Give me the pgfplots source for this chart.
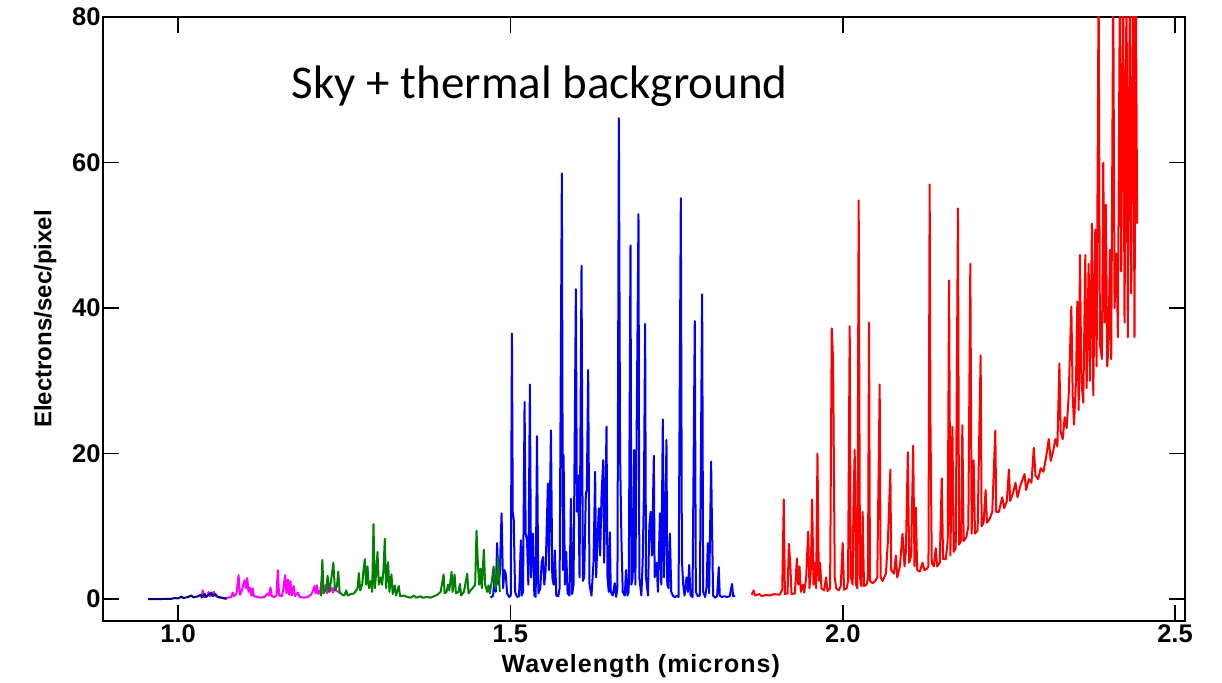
\documentclass[border=0pt]{standalone}
\usepackage{fontspec}
\setmainfont{Liberation Sans}
\newfontfamily\titlefont{Carlito}
\usepackage{pgfplots}
\pgfplotsset{compat=1.18}
\definecolor{navyc}{RGB}{0,0,128}
\definecolor{magc}{RGB}{255,0,255}
\definecolor{grnc}{RGB}{0,128,0}
\definecolor{bluc}{RGB}{0,0,255}
\definecolor{redc}{RGB}{255,0,0}
\begin{document}
\begin{tikzpicture}
\path[use as bounding box] (-103pt,-61pt) rectangle (1119pt,621pt);
\begin{axis}[
 at={(0pt,0pt)}, anchor=south west,
 scale only axis, width=1082pt, height=604pt,
 xmin=0.887, xmax=2.515, ymin=-3, ymax=80,
 xtick={1.0,1.5,2.0,2.5}, ytick={0,20,40,60,80},
 minor tick num=0,
 tick align=inside, major tick length=16pt,
 every tick/.style={black, line width=1.6pt},
 axis line style={line width=2pt},
 tick label style={font=\fontsize{25.5}{25.5}\selectfont\bfseries},
 /pgf/number format/assume math mode=true,
 x tick label style={/pgf/number format/fixed, /pgf/number format/fixed zerofill, /pgf/number format/precision=1},
 y tick label style={/pgf/number format/fixed, /pgf/number format/precision=0, xshift=1pt},
 xlabel={Wavelength (microns)}, ylabel={Electrons/sec/pixel},
 xlabel style={font=\fontsize{25}{25}\selectfont\bfseries\addfontfeatures{LetterSpace=4}, at={(axis description cs:0.497,-0.074)}, anchor=center},
 ylabel style={font=\fontsize{24}{24}\selectfont\bfseries, at={(axis description cs:-0.0535,0.5)}, anchor=center},
 clip=true,
 every axis plot/.append style={mark=none, line width=2pt, line join=round},
]
% magenta
\addplot[magc] coordinates {
(1.035,0.1)(1.037,1.2)(1.039,0.3)(1.044,0.5)(1.046,1.0)(1.048,0.4)(1.052,0.8)(1.054,1.0)(1.056,0.5)(1.06,0.3)(1.066,0.2)(1.07,0.1)(1.075,0.2)(1.08,0.3)(1.082,0.9)(1.084,0.4)(1.088,0.8)(1.091,3.3)(1.093,0.6)(1.096,1.2)(1.098,2.0)(1.1,2.6)(1.102,1.5)(1.104,2.9)(1.106,1.0)(1.108,1.6)(1.11,0.5)(1.112,1.5)(1.114,0.4)(1.12,0.3)(1.125,0.2)(1.13,0.3)(1.135,0.8)(1.137,0.5)(1.139,1.6)(1.141,0.4)(1.145,0.3)(1.148,0.5)(1.15,4.0)(1.152,0.5)(1.156,0.4)(1.158,1.2)(1.161,3.3)(1.163,0.8)(1.165,2.7)(1.167,0.6)(1.169,2.5)(1.171,0.5)(1.174,1.8)(1.176,0.4)(1.18,0.9)(1.183,0.3)(1.19,0.2)(1.195,0.3)(1.2,0.6)(1.203,1.2)(1.205,1.8)(1.207,0.8)(1.209,1.9)(1.211,0.7)(1.214,1.2)(1.217,3.3)(1.219,0.9)(1.222,1.9)(1.224,0.8)(1.226,2.3)(1.228,1.0)(1.231,1.6)(1.233,0.9)(1.236,1.8)(1.238,1.2)(1.241,1.0)(1.244,0.8)
};
% navy
\addplot[navyc] coordinates {
(0.955,0.0)(0.975,0.02)(0.99,0.05)(0.995,0.15)(1.000,0.1)(1.005,0.35)(1.008,0.15)(1.015,0.3)(1.02,0.5)(1.023,0.25)(1.03,0.4)(1.034,0.6)(1.036,0.3)(1.04,0.7)(1.042,0.3)(1.046,0.6)(1.05,0.9)(1.052,0.4)(1.056,0.7)(1.06,0.3)(1.065,0.2)(1.07,0.1)(1.073,0.05)
};
% blue
\addplot[bluc] coordinates {
(1.470,0.2)(1.474,0.5)(1.476,3.0)(1.478,1.0)(1.480,7.7)(1.482,2.0)(1.484,3.5)(1.4867,11.8)(1.489,1.5)(1.491,4.0)(1.493,3.5)(1.495,0.8)(1.498,0.3)(1.5005,0.5)(1.5023,36.5)(1.5035,12.0)(1.505,11.0)(1.507,1.0)(1.51,0.3)(1.513,0.4)(1.5158,8.1)(1.517,0.5)(1.519,1.0)(1.5213,27.1)(1.523,9.0)(1.525,8.0)(1.527,2.0)(1.5293,29.5)(1.531,3.0)(1.534,9.0)(1.536,0.5)(1.538,0.3)(1.540,22.4)(1.542,0.8)(1.545,1.5)(1.547,5.0)(1.549,5.8)(1.551,2.0)(1.553,4.0)(1.5564,15.9)(1.558,4.0)(1.561,23.2)(1.563,3.0)(1.565,2.0)(1.567,6.7)(1.569,0.5)(1.572,0.4)(1.574,1.5)(1.5774,58.5)(1.579,4.0)(1.580,19.8)(1.582,2.0)(1.584,6.5)(1.586,0.8)(1.589,0.5)(1.591,13.8)(1.593,0.7)(1.595,2.0)(1.5985,42.6)(1.600,12.0)(1.602,17.0)(1.604,3.0)(1.607,45.8)(1.609,2.5)(1.611,3.0)(1.6135,14.5)(1.615,15.0)(1.617,31.5)(1.619,2.0)(1.622,0.5)(1.625,5.0)(1.6275,17.5)(1.629,3.0)(1.631,8.0)(1.633,12.5)(1.635,6.0)(1.637,14.0)(1.6396,19.1)(1.641,5.0)(1.643,14.0)(1.6446,23.7)(1.646,3.0)(1.648,1.0)(1.6496,9.2)(1.651,1.0)(1.654,0.5)(1.657,2.2)(1.659,0.3)(1.661,1.5)(1.6632,66.1)(1.665,20.0)(1.667,8.4)(1.669,1.0)(1.672,0.5)(1.674,4.0)(1.676,0.5)(1.678,1.0)(1.6807,48.6)(1.682,2.0)(1.684,3.0)(1.6862,20.5)(1.688,2.0)(1.6927,52.9)(1.694,3.0)(1.697,0.5)(1.699,5.0)(1.701,15.4)(1.7027,37.8)(1.704,3.0)(1.707,0.5)(1.709,10.0)(1.711,12.0)(1.713,6.0)(1.7158,19.7)(1.717,3.0)(1.720,5.0)(1.722,1.0)(1.725,11.8)(1.727,2.0)(1.7293,24.7)(1.731,3.0)(1.733,10.0)(1.7348,21.9)(1.736,2.0)(1.738,1.5)(1.740,9.0)(1.742,1.0)(1.745,0.4)(1.748,0.3)(1.751,0.5)(1.753,0.3)(1.7564,55.1)(1.758,5.4)(1.760,2.0)(1.762,0.5)(1.765,3.0)(1.767,1.0)(1.769,4.7)(1.771,0.5)(1.774,0.3)(1.7774,38.2)(1.779,1.0)(1.782,0.4)(1.785,0.5)(1.7885,41.9)(1.790,1.0)(1.793,0.3)(1.795,1.5)(1.797,7.7)(1.799,0.8)(1.802,18.9)(1.803,12.0)(1.805,0.5)(1.808,0.2)(1.811,0.4)(1.8135,4.4)(1.815,0.5)(1.818,0.3)(1.822,0.4)(1.826,0.3)(1.830,0.4)(1.8335,2.1)(1.835,0.4)(1.838,0.5)
};
% green
\addplot[grnc] coordinates {
(1.215,0.4)(1.217,5.4)(1.219,0.8)(1.223,1.5)(1.225,3.2)(1.227,1.0)(1.23,2.4)(1.2336,5.0)(1.236,1.2)(1.239,1.8)(1.241,3.8)(1.243,1.0)(1.247,0.6)(1.25,0.5)(1.253,1.2)(1.255,0.5)(1.26,0.7)(1.265,0.8)(1.27,1.5)(1.272,3.6)(1.274,1.2)(1.277,2.0)(1.279,4.0)(1.281,5.5)(1.283,2.0)(1.285,4.5)(1.287,1.5)(1.29,2.5)(1.292,1.0)(1.294,10.3)(1.296,1.5)(1.298,3.5)(1.3,6.5)(1.302,2.0)(1.305,3.0)(1.307,2.0)(1.309,4.0)(1.311,8.3)(1.313,1.5)(1.316,5.1)(1.318,1.0)(1.321,3.4)(1.323,0.7)(1.326,1.9)(1.328,0.5)(1.332,1.8)(1.334,0.4)(1.34,0.5)(1.345,0.3)(1.35,0.2)(1.355,0.5)(1.358,0.2)(1.365,0.4)(1.368,0.2)(1.375,0.3)(1.38,0.2)(1.385,0.4)(1.39,0.6)(1.395,1.0)(1.3995,3.4)(1.401,0.8)(1.404,1.0)(1.406,2.0)(1.408,1.2)(1.4115,3.75)(1.413,1.0)(1.416,3.4)(1.418,0.8)(1.422,1.0)(1.424,2.1)(1.426,0.5)(1.43,1.0)(1.435,3.5)(1.437,0.8)(1.44,1.2)(1.443,1.5)(1.447,2.0)(1.449,9.4)(1.451,5.0)(1.453,2.0)(1.455,4.2)(1.457,1.5)(1.46,6.8)(1.462,2.0)(1.465,1.0)(1.467,1.9)(1.469,0.8)(1.472,2.5)(1.4747,4.5)(1.477,1.5)(1.479,2.0)(1.4817,5.8)(1.484,1.0)
};
% red
\addplot[redc] coordinates {
(1.863,0.6)(1.866,1.2)(1.868,0.5)(1.875,0.7)(1.878,0.4)(1.885,0.6)(1.89,0.5)(1.897,0.7)(1.905,0.6)(1.909,1.3)(1.9113,13.7)(1.913,0.7)(1.917,0.8)(1.919,7.6)(1.921,5.0)(1.923,0.7)(1.928,0.8)(1.931,5.6)(1.933,2.0)(1.935,4.5)(1.937,1.0)(1.94,2.0)(1.942,0.9)(1.945,3.0)(1.948,9.3)(1.95,1.5)(1.952,4.0)(1.954,13.7)(1.956,2.0)(1.958,5.0)(1.96,1.5)(1.962,20.0)(1.964,2.5)(1.966,5.0)(1.968,1.5)(1.972,1.2)(1.975,3.0)(1.977,1.1)(1.981,1.5)(1.9835,37.2)(1.9855,32.9)(1.988,3.0)(1.99,1.5)(1.994,1.2)(1.997,1.8)(2.0,7.7)(2.002,1.3)(2.006,1.5)(2.008,2.5)(2.0105,37.5)(2.012,3.0)(2.015,2.0)(2.016,12.0)(2.018,20.5)(2.02,2.0)(2.022,1.5)(2.024,54.8)(2.026,3.0)(2.028,1.8)(2.030,12.0)(2.032,1.8)(2.036,2.0)(2.038,3.0)(2.0396,38.0)(2.041,2.5)(2.045,2.2)(2.049,2.5)(2.052,3.0)(2.0556,29.5)(2.057,3.0)(2.06,2.5)(2.065,3.5)(2.068,8.0)(2.0717,17.8)(2.073,4.0)(2.077,3.5)(2.08,6.0)(2.082,3.0)(2.086,4.5)(2.09,9.0)(2.093,4.5)(2.095,6.5)(2.098,20.2)(2.1,5.0)(2.103,6.0)(2.106,21.1)(2.108,4.5)(2.11,12.6)(2.112,4.0)(2.116,3.8)(2.12,5.0)(2.123,4.0)(2.127,4.2)(2.129,4.5)(2.1308,57.0)(2.132,24.4)(2.134,5.0)(2.137,4.5)(2.14,7.0)(2.142,4.5)(2.146,5.0)(2.149,16.6)(2.151,5.5)(2.155,5.5)(2.158,8.0)(2.160,43.8)(2.162,6.0)(2.165,23.7)(2.167,6.5)(2.17,7.0)(2.1734,53.7)(2.175,7.5)(2.178,8.0)(2.18,23.9)(2.182,8.0)(2.186,8.5)(2.189,10.0)(2.192,46.1)(2.194,9.0)(2.197,19.1)(2.199,9.0)(2.203,9.5)(2.2075,33.5)(2.209,10.0)(2.212,10.5)(2.215,15.0)(2.217,10.5)(2.221,11.0)(2.225,12.0)(2.2296,23.2)(2.231,12.0)(2.235,12.0)(2.24,14.0)(2.243,12.5)(2.247,13.5)(2.25,17.8)(2.252,13.5)(2.256,14.5)(2.26,16.0)(2.263,14.0)(2.267,15.5)(2.2735,17.2)(2.276,15.0)(2.28,16.5)(2.284,16.0)(2.2875,20.8)(2.29,17.0)(2.294,16.5)(2.298,18.0)(2.302,17.5)(2.306,19.5)(2.31,22.0)(2.313,19.0)(2.317,20.5)(2.32,22.0)(2.323,21.0)(2.326,32.4)(2.328,23.0)(2.331,22.0)(2.334,25.0)(2.337,23.5)(2.34,28.0)(2.344,40.2)(2.346,28.0)(2.348,24.0)(2.351,30.0)(2.353,40.9)(2.355,26.0)(2.357,47.3)(2.359,30.0)(2.362,27.0)(2.365,47.3)(2.367,29.0)(2.37,46.1)(2.372,30.0)(2.375,51.6)(2.377,28.0)(2.38,50.8)(2.382,32.0)(2.385,85)(2.387,35.0)(2.39,33.0)(2.392,60.0)(2.394,38.0)(2.396,54.2)(2.398,32.0)(2.40,35.0)(2.402,48.0)(2.404,33.0)(2.407,85)(2.409,40.0)(2.412,47.5)(2.414,36.0)(2.417,85)(2.419,45.0)(2.422,85)(2.424,38.0)(2.427,85)(2.429,36.0)(2.432,85)(2.434,42.0)(2.437,85)(2.439,36.0)(2.441,85)(2.443,51.6)
};
\node[anchor=base west, font=\titlefont\fontsize{47}{47}\selectfont] at (axis cs:1.166,68.8) {Sky + thermal background};
\end{axis}
\end{tikzpicture}
\end{document}
